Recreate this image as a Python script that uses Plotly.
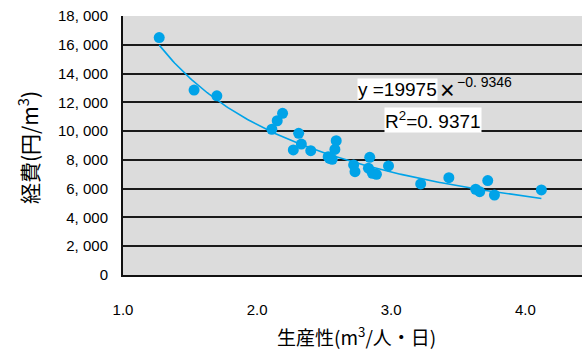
import numpy as np
import plotly.graph_objects as go

# Data
productivity = [1.27, 1.53, 1.70, 2.11, 2.15, 2.19, 2.31, 2.27, 2.33, 2.40,
                2.54, 2.59, 2.58, 2.53, 2.56, 2.72, 2.73, 2.84, 2.83, 2.86,
                2.89, 2.98, 3.22, 3.43, 3.63, 3.66, 3.72, 3.77, 4.12]
cost = [16500, 12850, 12450, 10130, 10720, 11240, 9850, 8690, 9100, 8640,
        8110, 9330, 8730, 8220, 8040, 7650, 7180, 8180, 7420, 7070,
        7000, 7580, 6330, 6760, 5960, 5790, 6560, 5560, 5910]

# Power trend line parameters (from the chart's equation)
coef_a = 19975
coef_b = -0.9346
r_squared = 0.9371

y_tick_vals = [0, 2000, 4000, 6000, 8000, 10000, 12000, 14000, 16000, 18000]
y_tick_text = ["0", "2, 000", "4, 000", "6, 000", "8, 000", "10, 000",
               "12, 000", "14, 000", "16, 000", "18, 000"]
x_tick_vals = [1.0, 2.0, 3.0, 4.0]
x_tick_text = ["1.0", "2.0", "3.0", "4.0"]

x_title = "生産性(m<sup>3</sup>/人・日)"
y_title = "経費(円/m<sup>3</sup>)"

W, H = 582, 349
ML, MR, MT, MB = 123, 0, 16, 74
PW = W - ML - MR
PH = H - MT - MB
XMIN = 1.0
XMAX = 1.0 + PW / 134.1

NUM_FONT = "Liberation Sans, Arial"
CJK_FONT = "Noto Sans CJK JP"
BLUE = "#00A3E8"

trend_x = np.linspace(min(productivity), max(productivity), 200)
trend_y = coef_a * trend_x ** coef_b

fig = go.Figure()
fig.add_trace(go.Scatter(x=trend_x, y=trend_y, mode="lines",
                         line=dict(color=BLUE, width=1.6), hoverinfo="skip"))
fig.add_trace(go.Scatter(x=productivity, y=cost, mode="markers",
                         marker=dict(color=BLUE, size=11, line=dict(width=0))))

def px_x(p):
    return (p - ML) / PW

def px_y(p):
    return (H - MB - p) / PH

fig.update_layout(
    width=W, height=H,
    margin=dict(l=ML, r=MR, t=MT, b=MB),
    paper_bgcolor="white",
    plot_bgcolor="#DCDCDC",
    showlegend=False,
    xaxis=dict(range=[XMIN, XMAX], tickvals=x_tick_vals, ticktext=x_tick_text,
               showgrid=False, zeroline=False, showline=True, linecolor="#111",
               linewidth=2, ticks="", ticklabelstandoff=20,
               tickfont=dict(family=NUM_FONT, size=15, color="#000")),
    yaxis=dict(range=[0, 18000], tickvals=y_tick_vals, ticktext=y_tick_text,
               showgrid=True, gridcolor="#1a1a1a", gridwidth=1.5, zeroline=False,
               showline=True, linecolor="#111", linewidth=2, ticks="",
               ticklabelstandoff=10,
               tickfont=dict(family=NUM_FONT, size=15, color="#000")),
    annotations=[
        dict(text=x_title, xref="paper", yref="paper", x=px_x(356), y=px_y(336),
             xanchor="center", yanchor="middle", showarrow=False,
             font=dict(family=CJK_FONT, size=19, color="#000")),
        dict(text=y_title, xref="paper", yref="paper", x=px_x(28), y=px_y(148),
             xanchor="center", yanchor="middle", showarrow=False, textangle=-90,
             font=dict(family=CJK_FONT, size=21, color="#000")),
        dict(text="y =%d" % coef_a, xref="paper", yref="paper",
             x=px_x(357), y=px_y(89), xanchor="left", yanchor="middle",
             showarrow=False, bgcolor="white", borderpad=0,
             font=dict(family=NUM_FONT, size=19, color="#000")),
        dict(text="×", xref="paper", yref="paper",
             x=px_x(438), y=px_y(90), xanchor="left", yanchor="middle",
             showarrow=False, font=dict(family=NUM_FONT, size=25, color="#000")),
        dict(text="−0. %s" % str(-coef_b)[2:], xref="paper", yref="paper",
             x=px_x(455), y=px_y(82), xanchor="left", yanchor="middle",
             showarrow=False, font=dict(family=NUM_FONT, size=14, color="#000")),
        dict(text="R<sup>2</sup>=0. %s" % str(r_squared)[2:], xref="paper", yref="paper",
             x=px_x(384), y=px_y(120), xanchor="left", yanchor="middle",
             showarrow=False, bgcolor="white", borderpad=0,
             font=dict(family=NUM_FONT, size=19, color="#000")),
    ],
)

fig.write_html("out.html")
